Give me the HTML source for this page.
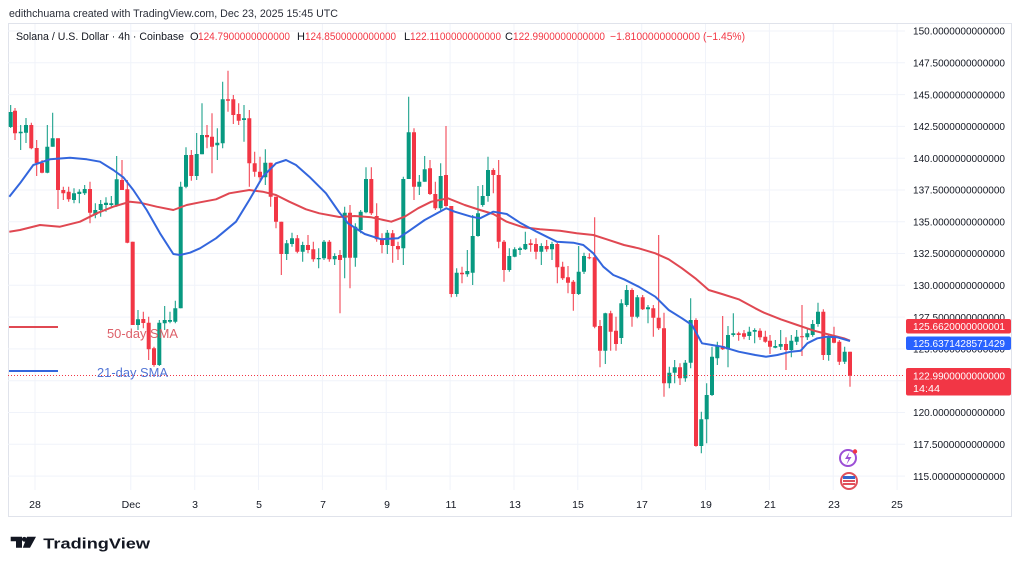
<!DOCTYPE html>
<html><head><meta charset="utf-8"><style>
html,body{margin:0;padding:0;background:#fff;}
svg{display:block;}
text{font-family:"Liberation Sans",Arial,sans-serif;}
</style></head><body>
<svg width="1024" height="570" viewBox="0 0 1024 570" xmlns="http://www.w3.org/2000/svg">
<rect width="1024" height="570" fill="#fff"/>
<text x="9" y="17" font-size="11" fill="#2a2e39" textLength="329" lengthAdjust="spacingAndGlyphs">edithchuama created with TradingView.com, Dec 23, 2025 15:45 UTC</text>
<rect x="8.5" y="23.5" width="1003" height="493" fill="none" stroke="#e0e3eb"/>
<g stroke="#f0f3fa" stroke-width="1">
<path d="M8 31H905M8 62.8H905M8 94.6H905M8 126.4H905M8 158.2H905M8 190H905M8 221.7H905M8 253.5H905M8 285.3H905M8 317.1H905M8 348.9H905M8 380.7H905M8 412.5H905M8 444.3H905M8 476.1H905"/>
<path d="M35 24V490M130.8 24V490M194.7 24V490M258.5 24V490M322.4 24V490M386.2 24V490M450.1 24V490M514 24V490M577.8 24V490M641.7 24V490M705.5 24V490M769.4 24V490M833.2 24V490M897.1 24V490"/>
</g>
<text x="16" y="40" font-size="11" fill="#131722" textLength="168" lengthAdjust="spacingAndGlyphs">Solana / U.S. Dollar · 4h · Coinbase</text>
<g font-size="11" fill="#f23645">
<text x="190" y="40" fill="#131722">O</text><text x="198" y="40" textLength="92" lengthAdjust="spacingAndGlyphs">124.7900000000000</text>
<text x="297" y="40" fill="#131722">H</text><text x="305" y="40" textLength="91" lengthAdjust="spacingAndGlyphs">124.8500000000000</text>
<text x="404" y="40" fill="#131722">L</text><text x="410" y="40" textLength="91" lengthAdjust="spacingAndGlyphs">122.1100000000000</text>
<text x="505" y="40" fill="#131722">C</text><text x="513" y="40" textLength="92" lengthAdjust="spacingAndGlyphs">122.9900000000000</text>
<text x="610" y="40" textLength="90" lengthAdjust="spacingAndGlyphs">−1.8100000000000</text>
<text x="703" y="40" textLength="42" lengthAdjust="spacingAndGlyphs">(−1.45%)</text>
</g>
<!-- candles -->
<path fill="none" stroke="#089981" stroke-width="1" d="M10.7 105V128M20.7 125V150M26 118V143M47.3 125V173.3M52.7 112.7V146.7M74 188.3V203.3M79.3 189.3V203.3M84.7 185V195M95.3 203.3V218.3M100.7 200V216.7M106 197.3V211.7M111.3 196V206.7M116.7 156V206.7M138 310V330M159.3 320V366M164.7 306V330M170 311.7V323.3M175.3 300.7V323.3M180.7 181.7V308.3M186 147.3V188.3M196.7 133V180M202 103.3V154.3M217.3 128.3V160M222.7 81.7V148.3M244 105V141.7M265.3 149.3V185M286.7 240V260M292 232.7V246.7M302.7 241.7V261.7M318.7 248.3V268.3M324 240V260M334.7 253.3V265M344.7 206.7V278.3M355.3 223.3V266.7M360.7 210V233.3M366 167.3V213.3M387.3 230V254M403.3 176.7V265M408.7 96.7V179M419.3 175V195M424.7 156V181.7M440.7 163.3V210.7M456.7 268.3V296.7M467.3 250V276.7M472.7 215V285M478 186V236.7M482.7 185V206.7M488 156.7V201.7M509.3 248.3V271.7M514.7 247.3V257.3M520 246.7V255M525.3 231.7V250M541.3 243.3V265M552 241.7V260M578.7 246V295M584 252.7V274M605.3 312.7V364M621.3 299.3V344M626.7 285V306.7M637.3 295V318.3M648 305V323.3M669.3 366.7V388.3M674.7 360V383.3M685.3 360V381.7M690.7 298.3V368.3M701.3 411.7V453.3M706.7 383.3V443.3M712 346.7V396M717.3 341.7V365M728 326V367.3M733.3 313.3V336.7M749.3 326.7V340M754.7 328.3V343.3M775.3 340V348.3M780.7 330V350M791.3 335V357.3M796.7 330V345M807.3 328.3V340M812.7 320V336.7M818 302.7V326.7M828.7 335V360.7M844.7 346.7V364"/>
<path fill="none" stroke="#089981" stroke-width="4" d="M10.7 112V127M20.7 131.7V133.3M26 125V132.7M47.3 146.7V172.7M52.7 138.3V146.7M74 193.3V200M79.3 191.7V194M84.7 189V193.3M95.3 210V215M100.7 204V210M106 202.7V205M111.3 203.3V205M116.7 179.3V205M138 319.3V325M159.3 322.7V365M164.7 320V323.3M170 320V321.7M175.3 308.3V321.7M180.7 186.7V308.3M186 155V186.7M196.7 154V176M202 135V154.3M217.3 142.7V145.3M222.7 99.3V143.3M244 118.3V120M265.3 162.7V177.3M286.7 243.3V254M292 238.3V244M302.7 245V251.7M318.7 258V259.3M324 241.7V258.3M334.7 256V259.3M344.7 212.7V257.7M355.3 226.7V257.7M360.7 211.7V230M366 179V212.3M387.3 232.7V245M403.3 179V248.3M408.7 132.3V179M419.3 181.7V186.7M424.7 169.3V181.7M440.7 176V208.3M456.7 272.7V294M467.3 271V274.3M472.7 236V272.7M478 213.3V236M482.7 196V205M488 170V196M509.3 256V270M514.7 249.3V256.7M520 248.3V250M525.3 244V249.3M541.3 246V251.7M552 244V249.3M578.7 271.7V294M584 256V271.7M605.3 313.3V350.7M621.3 303.3V338M626.7 290V305M637.3 297.3V316.7M648 307.3V309.3M669.3 372.7V383.3M674.7 367.3V372.7M685.3 362.7V378.3M690.7 320V362.7M701.3 419.3V446M706.7 395V419.3M712 356.7V395M717.3 346V358.3M728 335V349.3M733.3 333.3V335M749.3 331.7V336M754.7 330V331.7M775.3 346V347.7M780.7 344V346.7M791.3 340.7V350M796.7 336.7V341.7M807.3 333.3V337.3M812.7 324V335M818 311.7V324M828.7 337.3V355M844.7 351.7V361.7"/>
<path fill="none" stroke="#f23645" stroke-width="1" d="M15 108V140M31.3 122.7V149.3M36.7 140V176M42 160V173.3M58 138.3V209M63.3 186.7V200M68.7 186.7V201.7M90 181.7V223.3M122 160V190M127.3 180V243.3M132.7 241.7V325M143.3 311.7V328.3M148.7 316.7V360M154 346.7V366.7M191.3 150V180.7M207 125V148.3M212 113.3V173.3M228 70.7V111.7M233.3 95V124M238.7 103.3V125M249.3 110V186.7M254.7 151.7V176.7M260 156.7V180M270.7 162.7V206.7M276 196.7V228.3M281.3 221.7V275M297.3 235V253.3M308 235V253.3M313.3 241.7V261.7M329.3 240V261.7M340 250V313.3M350 205V288.3M371.3 167.3V215M376.7 203.3V241.7M382 233.3V253.3M392.7 230V262.7M398 241.7V260M414 128.3V200M430 160V195M435.3 181.7V210M446 126V206.7M451.3 206V297.3M462 266.7V283.3M493.3 168.3V193.3M498.7 160V248.3M504 240V281.7M530.7 239.3V251.7M536 238.3V259.3M546.7 240V251.7M557.3 242.7V283.3M562.7 261.7V280M568 266V293.3M573.3 280V310.7M589.3 253.3V259.3M594.7 217.3V328.3M600 320V367.3M610.7 310.7V350.7M616 316.7V350.7M632 288.3V326.7M642.7 295V310M653.3 305V336.7M658.7 235V330M664 312.7V396.7M680 363.3V385M696 318.3V446.7M722.7 316V350M738.7 331.7V340.7M744 330V339.3M760 328.3V340M765.3 330.7V342.7M770 335V354M786 337.3V370M802 305V356M823.3 309.3V360M834 326.7V343.3M839.3 340V365M850 351.7V386.7"/>
<path fill="none" stroke="#f23645" stroke-width="4" d="M15 110.7V133.3M31.3 125V148.3M36.7 148V163M42 163V172.7M58 138.3V190M63.3 190V193.3M68.7 191.7V199.3M90 189V212.7M122 180V190M127.3 189.3V242.7M132.7 241.7V325M143.3 319V323M148.7 322.7V349.3M154 348.3V365M191.3 155V176M207 135V137.3M212 136.7V146.7M228 99.3V100.7M233.3 99.3V115M238.7 114V120.7M249.3 118.3V163.3M254.7 163.3V171.7M260 171.7V177.3M270.7 162.7V196.7M276 196.7V221.7M281.3 221.7V254M297.3 238.3V251.7M308 245V250M313.3 249.3V259.3M329.3 241.7V259.3M340 255V260M350 212.7V257.7M371.3 179V213.3M376.7 216V239.3M382 239.3V245M392.7 233.3V246M398 246V249.3M414 132.3V186.7M430 168.3V194M435.3 194V208.3M446 175V206M451.3 206V294M462 272.7V274.3M493.3 170V175M498.7 175V241.7M504 241.7V270M530.7 243.3V245M536 244V251.7M546.7 246V249.3M557.3 244V267.3M562.7 266.7V278.3M568 277.3V282.7M573.3 281.7V294M589.3 257.3V258.3M594.7 257.3V326.7M600 326V350.7M610.7 313.3V331.7M616 330.7V344M632 290V316.7M642.7 297.3V309.3M653.3 308.3V317.7M658.7 317.7V328.3M664 328.3V383.3M680 367.3V378.3M696 320V446M722.7 346V349.3M738.7 333.3V335M744 333.3V336.7M760 330.7V337.3M765.3 336.7V341.7M770 340.7V346.7M786 344V350M802 336.3V337.3M823.3 311.7V355M834 337.3V342.7M839.3 341.7V361.7M850 351.7V375.7"/>
<!-- SMAs -->
<polyline fill="none" stroke="#e04852" stroke-width="2" stroke-linejoin="round" points="9.3,231.7 20,230 40,225 60,226.7 80,221.7 96.7,213.3 113.3,206.7 130,201.7 140,202.7 156.7,206.7 173.3,210 186.7,205 200,202.3 216,199.3 229.3,193.3 249.3,190 262.7,191.7 276,195 289.3,201.7 306,209.3 319.3,213.3 339.3,217 354.7,216 371.3,217.3 391.3,221.7 404.7,216.7 418,208.3 431.3,201.7 448,198.3 464.7,205 480,210 493.3,214 506.7,221.7 523.3,227.3 540,229.3 560,230.7 576.7,233.3 593.3,235 606.7,239.3 624,245 638.7,248.3 655.3,253.3 668.7,259.3 682,268.3 695.3,278.3 708.7,290 722,294 738.7,299.3 755.3,308.3 764,312.7 780.7,319.3 797.3,325 814,330.7 830.7,335 844,338.3 850,340.7"/>
<polyline fill="none" stroke="#3366dd" stroke-width="2" stroke-linejoin="round" points="9.3,196.7 20,183.3 33.3,165 50,159.3 70,157.7 86.7,159.3 100,161.7 113.3,170 123.3,177.3 133.3,190 146.7,210 160,233.3 173.3,254 180,255 190,252.7 200,248.3 216,238.3 236,221.7 249.3,200 262.7,176.7 276,163.3 286,160 296,165 309.3,176.7 326,193.3 339,212 348,223.3 364.7,234 381.3,239.3 398,238.3 408,231.7 424.7,220 438,212.7 446.3,208.3 454.7,211.7 471.3,216.7 480,218.3 493.3,211.7 506.7,214 520,222.7 536.7,231.7 556.7,241.7 573.3,242.7 583.3,245 593.3,253.3 603.3,266.7 613.3,275 624,279.3 638.7,286.7 655.3,296.7 668.7,310 682,318.3 692,325 702,343.3 712,345 722,346.7 738.7,351.7 755.3,355 766,356.7 777.3,355 790.7,351.7 800.7,350.7 807.3,343.3 817.3,338.3 827.3,336.7 837.3,337.3 850,341"/>
<!-- current price dotted line -->
<path d="M8 375.5H905" stroke="#f23645" stroke-width="1" stroke-dasharray="1 2"/>
<!-- drawings -->
<path d="M9 327H58" stroke="#e04852" stroke-width="2"/>
<path d="M9 371H58" stroke="#3366dd" stroke-width="2"/>
<text x="107" y="338" font-size="13" fill="#d9505a" fill-opacity="0.9" textLength="71" lengthAdjust="spacingAndGlyphs">50-day SMA</text>
<text x="97" y="377" font-size="13" fill="#3f66d0" fill-opacity="0.9" textLength="71" lengthAdjust="spacingAndGlyphs">21-day SMA</text>
<!-- price axis -->
<g font-size="10.5" fill="#131722">
<text x="913" y="34.7" textLength="92" lengthAdjust="spacingAndGlyphs">150.0000000000000</text>
<text x="913" y="66.5" textLength="92" lengthAdjust="spacingAndGlyphs">147.5000000000000</text>
<text x="913" y="98.3" textLength="92" lengthAdjust="spacingAndGlyphs">145.0000000000000</text>
<text x="913" y="130.1" textLength="92" lengthAdjust="spacingAndGlyphs">142.5000000000000</text>
<text x="913" y="161.9" textLength="92" lengthAdjust="spacingAndGlyphs">140.0000000000000</text>
<text x="913" y="193.7" textLength="92" lengthAdjust="spacingAndGlyphs">137.5000000000000</text>
<text x="913" y="225.4" textLength="92" lengthAdjust="spacingAndGlyphs">135.0000000000000</text>
<text x="913" y="257.2" textLength="92" lengthAdjust="spacingAndGlyphs">132.5000000000000</text>
<text x="913" y="289" textLength="92" lengthAdjust="spacingAndGlyphs">130.0000000000000</text>
<text x="913" y="320.8" textLength="92" lengthAdjust="spacingAndGlyphs">127.5000000000000</text>
<text x="913" y="352.6" textLength="92" lengthAdjust="spacingAndGlyphs">125.0000000000000</text>
<text x="913" y="384.4" textLength="92" lengthAdjust="spacingAndGlyphs">122.5000000000000</text>
<text x="913" y="416.2" textLength="92" lengthAdjust="spacingAndGlyphs">120.0000000000000</text>
<text x="913" y="448" textLength="92" lengthAdjust="spacingAndGlyphs">117.5000000000000</text>
<text x="913" y="479.8" textLength="92" lengthAdjust="spacingAndGlyphs">115.0000000000000</text>
</g>
<rect x="906" y="319" width="105" height="14.5" rx="2" fill="#f23645"/>
<text x="913" y="330.2" font-size="10.5" fill="#fff" textLength="92" lengthAdjust="spacingAndGlyphs">125.6620000000001</text>
<rect x="906" y="336.5" width="105" height="13.5" rx="2" fill="#2962ff"/>
<text x="913" y="347.2" font-size="10.5" fill="#fff" textLength="92" lengthAdjust="spacingAndGlyphs">125.6371428571429</text>
<rect x="906" y="368" width="105" height="27.5" rx="2" fill="#f23645"/>
<text x="913" y="379.5" font-size="10.5" fill="#fff" textLength="92" lengthAdjust="spacingAndGlyphs">122.9900000000000</text>
<text x="913" y="392" font-size="10.5" fill="#fff" textLength="27" lengthAdjust="spacingAndGlyphs">14:44</text>
<!-- time axis -->
<g font-size="10.5" fill="#131722" text-anchor="middle">
<text x="35" y="508">28</text>
<text x="131" y="508">Dec</text>
<text x="195" y="508">3</text>
<text x="259" y="508">5</text>
<text x="323" y="508">7</text>
<text x="387" y="508">9</text>
<text x="451" y="508">11</text>
<text x="515" y="508">13</text>
<text x="578" y="508">15</text>
<text x="642" y="508">17</text>
<text x="706" y="508">19</text>
<text x="770" y="508">21</text>
<text x="834" y="508">23</text>
<text x="897" y="508">25</text>
</g>
<!-- icons -->
<g>
<circle cx="848" cy="458" r="8" fill="#fff" stroke="#9c4fd6" stroke-width="2"/>
<path d="M849.5 452 L845 459 H848.5 L846.5 464.5 L851.5 457 H848 Z" fill="#9c4fd6"/>
<circle cx="855" cy="451.5" r="2.2" fill="#f23645"/>
<circle cx="849" cy="481" r="8" fill="#fff" stroke="#e0505a" stroke-width="2"/>
<rect x="843" y="476" width="12" height="3" fill="#3366cc"/>
<rect x="843" y="480" width="12" height="2" fill="#e0505a"/>
<rect x="843" y="483" width="12" height="2" fill="#e0505a"/>
</g>
<!-- logo -->
<g fill="#131722">
<path d="M10.7 536.7 H22 V547.7 H16 V541.2 H10.7 Z"/>
<circle cx="24.3" cy="539.3" r="2.4"/>
<path d="M27 536.7 H36 L30 547.7 H22.8 Z"/>
</g>
<text x="43.3" y="548.3" font-size="15" font-weight="bold" fill="#131722" textLength="106.7" lengthAdjust="spacingAndGlyphs">TradingView</text>
</svg>
</body></html>
